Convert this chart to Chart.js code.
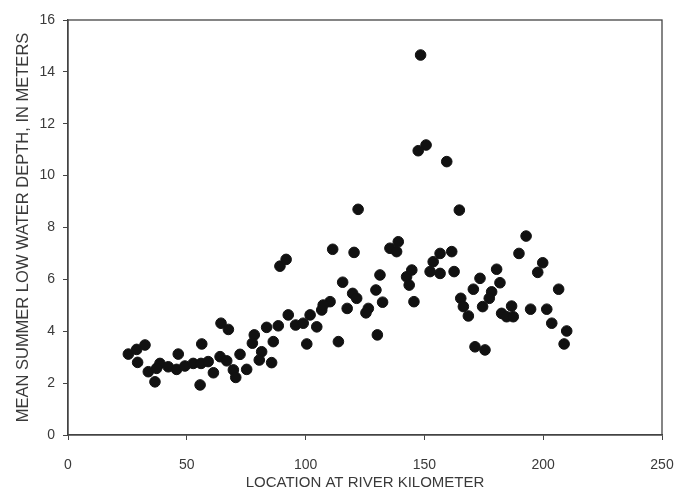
<!DOCTYPE html>
<html>
<head>
<meta charset="utf-8">
<script src="https://cdn.jsdelivr.net/npm/chart.js@4/dist/chart.umd.min.js"></script>
<style>
    html, body { margin: 0; padding: 0; background: #fff; }
    #wrap { width: 681px; height: 493px; }
</style>
</head>
<body>
<div id="wrap"><canvas id="depthChart" width="681" height="493"></canvas></div>
<script>
// river kilometer and mean summer low water depth (m) for each station
const riverKm = [
    25.4, 28.9, 32.4, 29.3, 33.8, 36.6, 38.7, 37.3, 42.2, 45.7,
    46.4, 49.2, 52.7, 56.3, 55.6, 56.0, 59.0, 61.2, 64.0, 64.4,
    67.5, 66.8, 72.4, 69.6, 70.6, 75.2, 78.4, 77.6, 81.5, 80.5,
    85.7, 86.4, 83.6, 88.5, 92.7, 95.8, 99.0, 100.5, 101.9, 104.7,
    106.8, 89.2, 91.8, 111.4, 120.4, 122.1, 135.5, 139.0, 138.3, 131.3,
    115.6, 119.8, 121.5, 129.6, 132.4, 126.4, 125.4, 117.5, 110.3, 107.4,
    113.8, 130.2, 142.5, 164.7, 156.6, 161.5, 153.7, 152.4, 156.6, 162.5,
    144.7, 143.6, 145.6, 180.4, 173.4, 181.8, 170.6, 178.3, 177.3, 165.3,
    166.4, 174.5, 168.5, 182.5, 184.6, 171.3, 175.5, 192.8, 189.8, 199.8,
    197.7, 206.5, 186.7, 187.4, 194.7, 201.5, 203.6, 209.9, 208.8, 148.4,
    150.7, 147.4, 159.4
];
const depthM = [
    3.12, 3.30, 3.47, 2.80, 2.44, 2.05, 2.76, 2.57, 2.63, 2.53,
    3.12, 2.66, 2.76, 3.51, 1.93, 2.76, 2.83, 2.40, 3.02, 4.31,
    4.07, 2.86, 3.11, 2.51, 2.22, 2.53, 3.86, 3.54, 3.21, 2.89,
    2.79, 3.60, 4.15, 4.21, 4.63, 4.24, 4.31, 3.51, 4.63, 4.17,
    4.82, 6.51, 6.77, 7.16, 7.04, 8.70, 7.20, 7.45, 7.07, 6.17,
    5.89, 5.46, 5.27, 5.59, 5.12, 4.88, 4.71, 4.88, 5.14, 5.01,
    3.60, 3.86, 6.10, 8.67, 7.00, 7.07, 6.68, 6.30, 6.23, 6.30,
    6.36, 5.78, 5.14, 6.39, 6.04, 5.87, 5.62, 5.52, 5.27, 5.27,
    4.95, 4.95, 4.59, 4.69, 4.56, 3.40, 3.28, 7.67, 7.00, 6.64,
    6.27, 5.62, 4.97, 4.56, 4.85, 4.85, 4.31, 4.01, 3.51, 14.65,
    11.18, 10.96, 10.54
];
const xTicks = [0, 50, 100, 150, 200, 250];
const yTicks = [0, 2, 4, 6, 8, 10, 12, 14, 16];

const textColor = "#3a3a3a";
const axisColor = "#444";

// box around the plotting area (top and right edges)
const framePlugin = {
    id: "frame",
    afterDraw(chart) {
        const { ctx, chartArea: a } = chart;
        ctx.save();
        ctx.strokeStyle = axisColor;
        ctx.lineWidth = 1.3;
        ctx.strokeRect(a.left, a.top, a.right - a.left, a.bottom - a.top);
        ctx.restore();
    },
};

const points = riverKm.map((km, i) => ({ x: km, y: depthM[i] }));

new Chart(document.getElementById("depthChart"), {
    type: "scatter",
    data: {
        datasets: [
            {
                data: points,
                backgroundColor: "#111",
                borderColor: "#111",
                pointRadius: 5.3,
                pointHoverRadius: 5.3,
            },
        ],
    },
    options: {
        responsive: false,
        animation: false,
        layout: { padding: { top: 20, right: 19, bottom: 0, left: 0 } },
        plugins: { legend: { display: false }, tooltip: { enabled: false } },
        scales: {
            x: {
                type: "linear",
                min: xTicks[0],
                max: xTicks[xTicks.length - 1],
                afterBuildTicks: (scale) => {
                    scale.ticks = xTicks.map((v) => ({ value: v }));
                },
                afterFit: (scale) => {
                    scale.height = 58;
                    // the big label gap should not shrink the plot sideways
                    scale.paddingLeft = 0;
                    scale.paddingRight = 0;
                },
                grid: {
                    drawOnChartArea: false,
                    drawTicks: true,
                    tickLength: 5,
                    color: axisColor,
                },
                border: { display: true, color: axisColor, width: 1.3 },
                ticks: {
                    color: textColor,
                    padding: 17,
                    maxRotation: 0,
                    font: { family: "Liberation Sans, Arial, sans-serif", size: 14 },
                },
                title: {
                    display: true,
                    text: "LOCATION AT RIVER KILOMETER",
                    color: textColor,
                    padding: { top: 0, bottom: 1 },
                    font: { family: "Liberation Sans, Arial, sans-serif", size: 15 },
                },
            },
            y: {
                type: "linear",
                min: yTicks[0],
                max: yTicks[yTicks.length - 1],
                afterBuildTicks: (scale) => {
                    scale.ticks = yTicks.map((v) => ({ value: v }));
                },
                afterFit: (scale) => { scale.width = 68; },
                grid: {
                    drawOnChartArea: false,
                    drawTicks: true,
                    tickLength: 5,
                    color: axisColor,
                },
                border: { display: true, color: axisColor, width: 1.3 },
                ticks: {
                    color: textColor,
                    padding: 8,
                    font: { family: "Liberation Sans, Arial, sans-serif", size: 14 },
                },
                title: {
                    display: true,
                    text: "MEAN SUMMER LOW WATER DEPTH, IN METERS",
                    color: textColor,
                    padding: { top: 14, bottom: 0 },
                    font: { family: "Liberation Sans, Arial, sans-serif", size: 16.5 },
                },
            },
        },
    },
    plugins: [framePlugin],
});
</script>
</body>
</html>
